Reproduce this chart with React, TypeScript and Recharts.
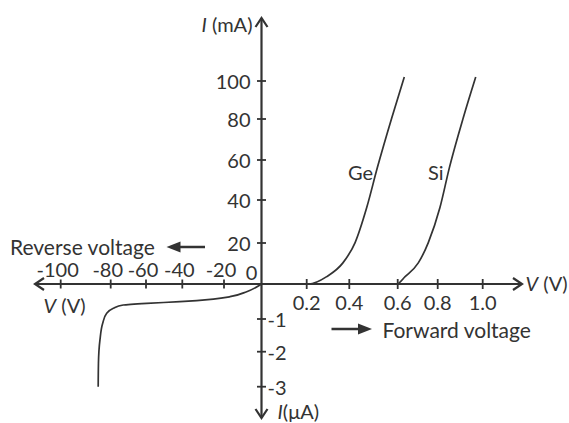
import React from "react";
import { LineChart, Line, XAxis, YAxis, ReferenceLine, ReferenceDot } from "recharts";

// ---- Data (V in volts, I in mA for forward, µA for reverse) ----
const geForward = [
  { v: 0, i: 0 }, { v: 0.21, i: 0 }, { v: 0.294, i: 3.6 }, { v: 0.37, i: 10.3 },
  { v: 0.424, i: 20.2 }, { v: 0.472, i: 36.5 }, { v: 0.516, i: 56.2 }, { v: 0.576, i: 80.8 },
  { v: 0.633, i: 102.1 },
];
const siForward = [
  { v: 0, i: 0 }, { v: 0.596, i: 0 }, { v: 0.637, i: 3.6 }, { v: 0.703, i: 10.3 },
  { v: 0.753, i: 20.2 }, { v: 0.81, i: 36.5 }, { v: 0.852, i: 56.2 }, { v: 0.914, i: 80.8 },
  { v: 0.969, i: 102.1 },
];
const reverseCurve = [
  { v: -85.0, i: -3.0 }, { v: -84.9, i: -2.33 }, { v: -84.3, i: -1.64 }, { v: -83.2, i: -1.13 },
  { v: -81.6, i: -0.837 }, { v: -78.5, i: -0.694 }, { v: -72.9, i: -0.6 }, { v: -59.6, i: -0.551 },
  { v: -41.3, i: -0.506 }, { v: -25.1, i: -0.43 }, { v: -16.8, i: -0.363 }, { v: -7.9, i: -0.22 },
  { v: 0, i: 0 },
];

const xPosTicks = [0.2, 0.4, 0.6, 0.8, 1.0];
const xPosTickLabels = ["0.2", "0.4", "0.6", "0.8", "1.0"];
const xNegTicks = [-20, -40, -60, -80, -100];
const xNegTickLabels = ["-20", "-40", "-60", "-80", "-100"];
const yPosTicks = [20, 40, 60, 80, 100];
const yPosTickLabels = ["20", "40", "60", "80", "100"];
const yNegTicks = [-1, -2, -3];
const yNegTickLabels = ["-1", "-2", "-3"];

// ---- Piecewise axis layout (offsets of each tick from the origin, in px units) ----
const X_POS_VALS = [0, 0.2, 0.4, 0.6, 0.8, 1.0];
const X_POS_OFF = [0, 45.2, 87.8, 136.2, 176.2, 221.2];
const X_NEG_VALS = [0, -20, -40, -60, -80, -100];
const X_NEG_OFF = [0, -37.5, -79.2, -115.5, -150.8, -200.8];
const Y_POS_VALS = [0, 20, 40, 60, 80, 100];
const Y_POS_OFF = [0, 41, 84, 124, 165, 203];
const Y_NEG_VALS = [0, -1, -2, -3];
const Y_NEG_OFF = [0, -35, -67.7, -102.7];

function interp(v: number, vals: number[], offs: number[]) {
  const a = Math.abs(v);
  for (let k = 0; k < vals.length - 1; k++) {
    const v0 = Math.abs(vals[k]);
    const v1 = Math.abs(vals[k + 1]);
    if (a <= v1 || k === vals.length - 2) {
      const t = (a - v0) / (v1 - v0);
      return offs[k] + t * (offs[k + 1] - offs[k]);
    }
  }
  return 0;
}
const tx = (v: number) => (v >= 0 ? interp(v, X_POS_VALS, X_POS_OFF) : interp(v, X_NEG_VALS, X_NEG_OFF));
const ty = (i: number) => (i >= 0 ? interp(i, Y_POS_VALS, Y_POS_OFF) : interp(i, Y_NEG_VALS, Y_NEG_OFF));
const toXY = (arr: { v: number; i: number }[]) => arr.map((p) => ({ x: tx(p.v), y: ty(p.i) }));

const INK = "#333";
const FONT = "Lato, 'Open Sans', sans-serif";
const FS = 20;

// chart frame: origin sits at px (261.5, 284)
const X_DOMAIN = [-261.5, 307.5];
const Y_DOMAIN = [-139, 284];

const arrowAxis = (p: any) => {
  const { x1, y1, x2, y2 } = p;
  const dx = x2 - x1, dy = y2 - y1;
  const len = Math.hypot(dx, dy) || 1;
  const ux = dx / len, uy = dy / len;
  const nx = -uy, ny = ux;
  const h = 9, w = 6;
  const head = (x: number, y: number, sx: number, sy: number) =>
    `M${x - sx * h + nx * w},${y - sy * h + ny * w} L${x},${y} L${x - sx * h - nx * w},${y - sy * h - ny * w}`;
  return (
    <g>
      <line x1={x1} y1={y1} x2={x2} y2={y2} stroke={INK} strokeWidth={2.2} />
      <path d={head(x2, y2, ux, uy)} fill="none" stroke={INK} strokeWidth={2.2} />
      {p.both ? <path d={head(x1, y1, -ux, -uy)} fill="none" stroke={INK} strokeWidth={2.2} /> : null}
    </g>
  );
};

const textShape = (content: React.ReactNode, anchor: string, extra: any = {}) => (p: any) => (
  <text
    x={p.cx}
    y={p.cy}
    textAnchor={anchor}
    dominantBaseline="central"
    fontFamily={FONT}
    fontSize={FS}
    fill={INK}
    {...extra}
  >
    {content}
  </text>
);

const label = (key: string, x: number, y: number, content: React.ReactNode, anchor = "middle", extra: any = {}) => (
  <ReferenceDot key={key} x={x} y={y} r={0} ifOverflow="visible" shape={textShape(content, anchor, extra)} />
);

const tickSeg = (key: string, x1: number, y1: number, x2: number, y2: number) => (
  <ReferenceLine
    key={key}
    segment={[{ x: x1, y: y1 }, { x: x2, y: y2 }]}
    stroke={INK}
    strokeWidth={1.8}
    ifOverflow="visible"
  />
);

const smallArrow = (key: string, xFrom: number, xTo: number, y: number) => (
  <ReferenceLine
    key={key}
    segment={[{ x: xFrom, y }, { x: xTo, y }]}
    ifOverflow="visible"
    shape={(p: any) => {
      const { x1, y1, x2 } = p;
      const dir = x2 > x1 ? 1 : -1;
      return (
        <g>
          <line x1={x1} y1={y1} x2={x2 - dir * 8} y2={y1} stroke={INK} strokeWidth={2.5} />
          <path d={`M${x2},${y1} L${x2 - dir * 14},${y1 - 5.5} L${x2 - dir * 14},${y1 + 5.5} Z`} fill={INK} />
        </g>
      );
    }}
  />
);

export default function App() {
  const ge = toXY(geForward);
  const si = toXY(siForward);
  const rev = toXY(reverseCurve);

  return (
    <div style={{ position: "absolute", left: 0, top: 0, width: 569, height: 423, background: "#fff" }}>
      <LineChart width={569} height={423} margin={{ top: 0, right: 0, bottom: 0, left: 0 }}>
        <XAxis type="number" dataKey="x" domain={X_DOMAIN} hide allowDataOverflow />
        <YAxis type="number" dataKey="y" domain={Y_DOMAIN} hide allowDataOverflow />

        {/* axes */}
        <ReferenceLine
          segment={[{ x: -226.5, y: 0 }, { x: 260.5, y: 0 }]}
          ifOverflow="visible"
          shape={(p: any) => arrowAxis({ ...p, both: true })}
        />
        <ReferenceLine
          segment={[{ x: 0, y: 0 }, { x: 0, y: 266 }]}
          ifOverflow="visible"
          shape={(p: any) => arrowAxis(p)}
        />
        <ReferenceLine
          segment={[{ x: 0, y: 0 }, { x: 0, y: -134 }]}
          ifOverflow="visible"
          shape={(p: any) => arrowAxis(p)}
        />

        {/* ticks */}
        {xPosTicks.map((v) => tickSeg(`xp${v}`, tx(v), -5, tx(v), 5))}
        {xNegTicks.map((v) => tickSeg(`xn${v}`, tx(v), -4.5, tx(v), 4.5))}
        {yPosTicks.map((v) => tickSeg(`yp${v}`, -4.5, ty(v), 4.5, ty(v)))}
        {yNegTicks.map((v) => tickSeg(`yn${v}`, -4.5, ty(v), 4.5, ty(v)))}

        {/* curves */}
        <Line data={ge} dataKey="y" type="monotone" stroke={INK} strokeWidth={1.7} dot={false} activeDot={false} isAnimationActive={false} />
        <Line data={si} dataKey="y" type="monotone" stroke={INK} strokeWidth={1.7} dot={false} activeDot={false} isAnimationActive={false} />
        <Line data={rev} dataKey="y" type="monotoneY" stroke={INK} strokeWidth={1.7} dot={false} activeDot={false} isAnimationActive={false} />

        {/* tick labels */}
        {xPosTicks.map((v, k) => label(`lxp${v}`, tx(v), -18, xPosTickLabels[k]))}
        {xNegTicks.map((v, k) => label(`lxn${v}`, tx(v) - 3, 15, xNegTickLabels[k]))}
        {yPosTicks.map((v, k) => label(`lyp${v}`, -11, ty(v), yPosTickLabels[k], "end"))}
        {yNegTicks.map((v, k) => label(`lyn${v}`, 6, ty(v), yNegTickLabels[k], "start"))}
        {label("l0", -10, 12, "0")}

        {/* axis titles */}
        {label("imA", -9, 260, <><tspan fontStyle="italic">I</tspan> (mA)</>, "end")}
        {label("iuA", 16, -127, <><tspan fontStyle="italic">I</tspan>(μA)</>, "start")}
        {label("vvR", 264, 1, <><tspan fontStyle="italic">V</tspan> (V)</>, "start")}
        {label("vvL", -218, -21, <><tspan fontStyle="italic">V</tspan> (V)</>, "start")}

        {/* curve labels */}
        {label("ge", 86.5, 112, "Ge", "start")}
        {label("si", 166.5, 112, "Si", "start")}

        {/* direction notes */}
        {label("rev", -251.5, 38, "Reverse voltage", "start", { fontSize: 21 })}
        {smallArrow("ra", -56.5, -95, 37)}
        {label("fwd", 121, -45, "Forward voltage", "start", { fontSize: 21 })}
        {smallArrow("fa", 70, 110.5, -45)}
      </LineChart>
    </div>
  );
}
